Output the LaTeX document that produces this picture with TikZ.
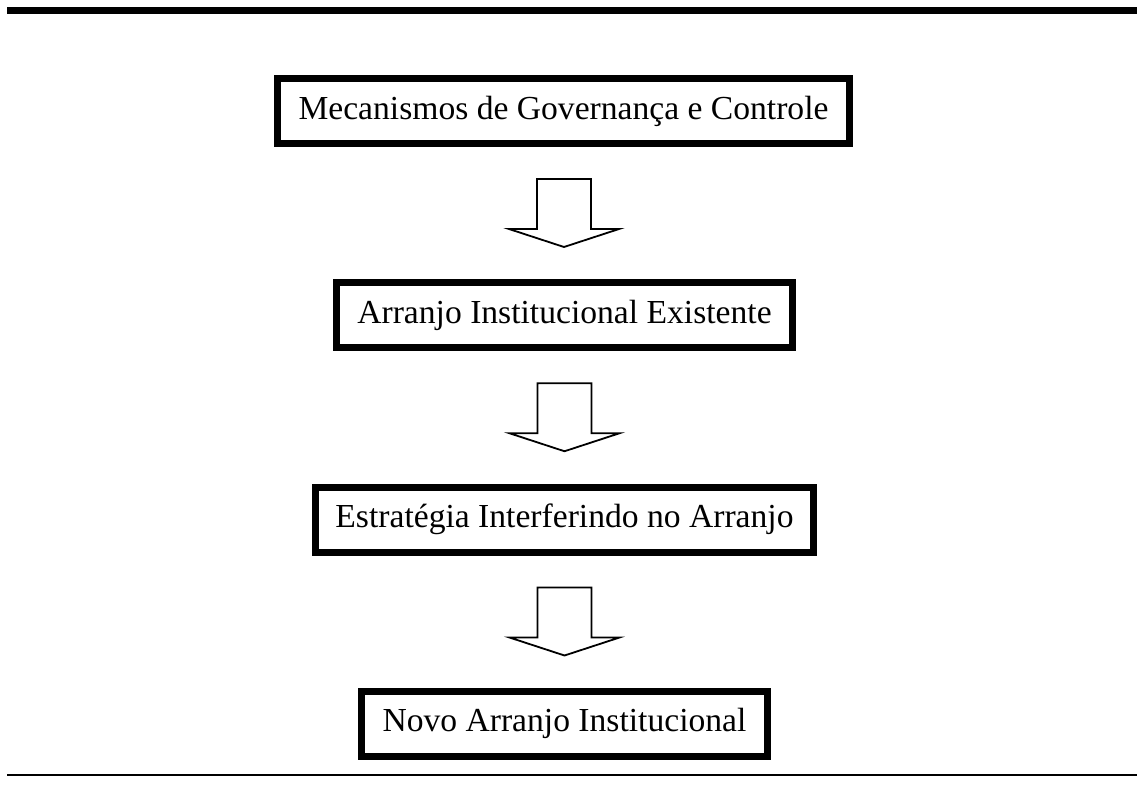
\documentclass[tikz,border=0pt]{standalone}
\usepackage{fontspec}
\setmainfont{Liberation Serif}
\usetikzlibrary{calc}

\tikzset{
  stagebox/.style={draw, line width=7pt, rectangle, inner sep=0pt,
    minimum height=65pt, font=\fontsize{33.6}{40}\selectfont},
  blockarrow/.pic={
    \draw[line width=1.8pt, line join=miter, fill=white]
      (-27,-34) -- (27,-34) -- (27,16) -- (55,16) -- (0,34)
      -- (-55,16) -- (-27,16) -- cycle;
  },
  rule/.style={line width=#1}
}

\begin{document}
\begin{tikzpicture}[x=1pt, y=-1pt]
  \useasboundingbox (0,0) rectangle (1144,807);
  \fill[white] (0,0) rectangle (1144,807);

  % top and bottom rules
  \coordinate (tl) at (7,10.5);
  \coordinate (tr) at (1137,10.5);
  \coordinate (bl) at (7,775);
  \coordinate (br) at (1137,775);
  \draw[rule=7pt] (tl) -- (tr);
  \draw[rule=1.5pt] (bl) -- (br);

  % stages
  \node[stagebox, minimum width=572pt] (b1) at (563.5,111)
    {Mecanismos de Governança e Controle};
  \node[stagebox, minimum width=456pt] (b2) at (564.5,315)
    {Arranjo Institucional Existente};
  \node[stagebox, minimum width=498pt] (b3) at (564.5,519.5)
    {Estratégia Interferindo no Arranjo};
  \node[stagebox, minimum width=406pt] (b4) at (564.5,723.5)
    {Novo Arranjo Institucional};

  % block arrows between stages
  \pic at ($(b1.south)!0.5!(b2.north)$) {blockarrow};
  \pic at ($(b2.south)!0.5!(b3.north)$) {blockarrow};
  \pic at ($(b3.south)!0.5!(b4.north)$) {blockarrow};
\end{tikzpicture}
\end{document}
